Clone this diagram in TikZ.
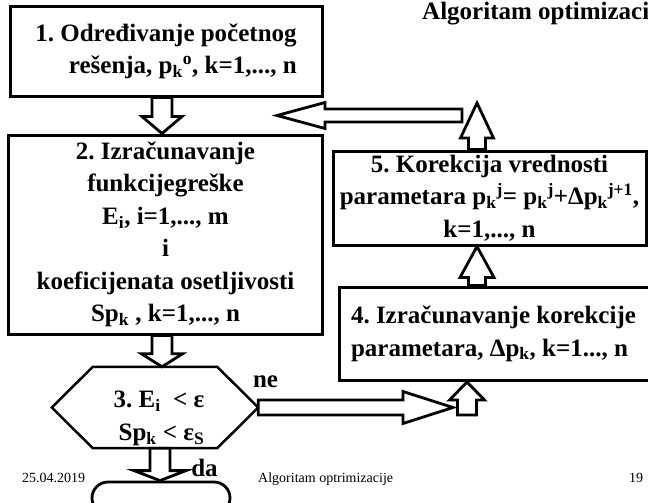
\documentclass[tikz,border=0pt]{standalone}
\usepackage{fontspec}
\setmainfont{Liberation Serif}
\usetikzlibrary{calc}
\frenchspacing
\tikzset{
  boxnode/.style={draw, line width=3pt, inner sep=0pt, font=\fontsize{25}{32.5}\selectfont\bfseries\frenchspacing},
  blk/.style={draw, fill=white, line width=2.8pt, line join=miter},
  hexline/.style={draw, line width=2.5pt, line join=miter},
  lbl/.style={font=\fontsize{25}{30}\selectfont\bfseries, inner sep=0pt},
  foot/.style={font=\fontsize{14}{16}\selectfont, inner sep=0pt},
}
% vertical block arrow: from, tip, shaft half width, head half width, head length (signed)
\newcommand{\vblk}[5]{\draw[blk] let \p1=(#1), \p2=(#2) in
  ({\x1-#3},\y1) -- ({\x1-#3},{\y2+(#5)}) -- ({\x1-#4},{\y2+(#5)}) -- (\x1,\y2)
  -- ({\x1+#4},{\y2+(#5)}) -- ({\x1+#3},{\y2+(#5)}) -- ({\x1+#3},\y1) -- cycle;}
% horizontal block arrow
\newcommand{\hblk}[5]{\draw[blk] let \p1=(#1), \p2=(#2) in
  (\x1,{\y1-#3}) -- ({\x2+(#5)},{\y1-#3}) -- ({\x2+(#5)},{\y1-#4}) -- (\x2,\y1)
  -- ({\x2+(#5)},{\y1+#4}) -- ({\x2+(#5)},{\y1+#3}) -- (\x1,{\y1+#3}) -- cycle;}
\begin{document}
\begin{tikzpicture}[x=1pt,y=-1pt]
\useasboundingbox (0,0) rectangle (648,503);

% title and footer
\node[font=\fontsize{25}{28}\selectfont\bfseries, anchor=base west, inner sep=0pt] (title) at (422,20) {Algoritam optimizacije};
\node[foot, anchor=base] (date) at (53.5,482) {25.04.2019};
\node[foot, anchor=base west] (ftitle) at (258,482) {Algoritam optrimizacije};
\node[foot, anchor=base] (page) at (636,482) {19};

% boxes
\node[boxnode, minimum width=312pt, minimum height=89pt, align=right] (b1) at (166,51.5)
  {1. Određivanje početnog\\rešenja, p\textsubscript{k}\textsuperscript{o}, k=1,..., n};
\node[boxnode, minimum width=314pt, minimum height=199pt, align=center] (b2) at (165.5,234.5)
  {2. Izračunavanje\\funkcijegreške\\E\textsubscript{i}, i=1,..., m\\i\\koeficijenata osetljivosti\\Sp\textsubscript{k} , k=1,..., n};
\node[boxnode, minimum width=313pt, minimum height=94pt, align=center] (b5) at (489.5,198)
  {5. Korekcija vrednosti\\parametara p\textsubscript{k}\textsuperscript{j}= p\textsubscript{k}\textsuperscript{j}+Δp\textsubscript{k}\textsuperscript{j+1},\\k=1,..., n};
\node[boxnode, minimum width=316pt, minimum height=93.5pt, text width=292pt, align=flush left] (b4) at (497,333.75)
  {4. Izračunavanje korekcije\\parametara, Δp\textsubscript{k}, k=1..., n};

% decision hexagon
\node[minimum width=206pt, minimum height=81pt, inner sep=0pt] (h3) at (155,407.5) {};
\draw[hexline] (h3.west) -- ([xshift=41pt]h3.north west) -- ([xshift=-41pt]h3.north east)
  -- (h3.east) -- ([xshift=-41pt]h3.south east) -- ([xshift=41pt]h3.south west) -- cycle;
\node[boxnode, draw=none, align=right, anchor=center] (h3t) at (159,418.5)
  {3. E\textsubscript{i}\ \ < ε\\Sp\textsubscript{k} < ε\textsubscript{S}};

% end terminal
\node[draw, line width=2.8pt, rounded corners=16pt, minimum width=138pt, minimum height=32pt, inner sep=0pt] (endn) at (161,498) {};

% labels
\node[lbl] (ne) at (265.5,382) {ne};
\node[lbl] (da) at (204.5,468) {da};

% axis coordinates and free ends
\coordinate (aax) at (162,0);
\coordinate (cax) at (160,0);
\coordinate (fax) at (477,0);
\coordinate (eax) at (467,415);
\coordinate (gtip) at (477,103);
\coordinate (hstart) at (462,115.5);
\coordinate (htip) at (277,115.5);
\coordinate (dtip) at (453,409);

% block arrows
\vblk{b1.south -| aax}{b2.north -| aax}{10pt}{20pt}{17pt}
\vblk{b2.south -| aax}{h3.north -| aax}{10pt}{20.5pt}{13pt}
\vblk{h3.south -| cax}{endn.north -| cax}{10pt}{26pt}{10pt}
\hblk{h3.east}{dtip}{7.5pt}{16pt}{-50pt}
\vblk{eax}{b4.south -| eax}{9.5pt}{17.5pt}{-18pt}
\vblk{b4.north -| fax}{b5.south -| fax}{8.5pt}{17pt}{-31pt}
\vblk{b5.north -| fax}{gtip}{8.5pt}{16.5pt}{-35pt}
\hblk{hstart}{htip}{6.5pt}{13pt}{48pt}
\end{tikzpicture}
\end{document}
